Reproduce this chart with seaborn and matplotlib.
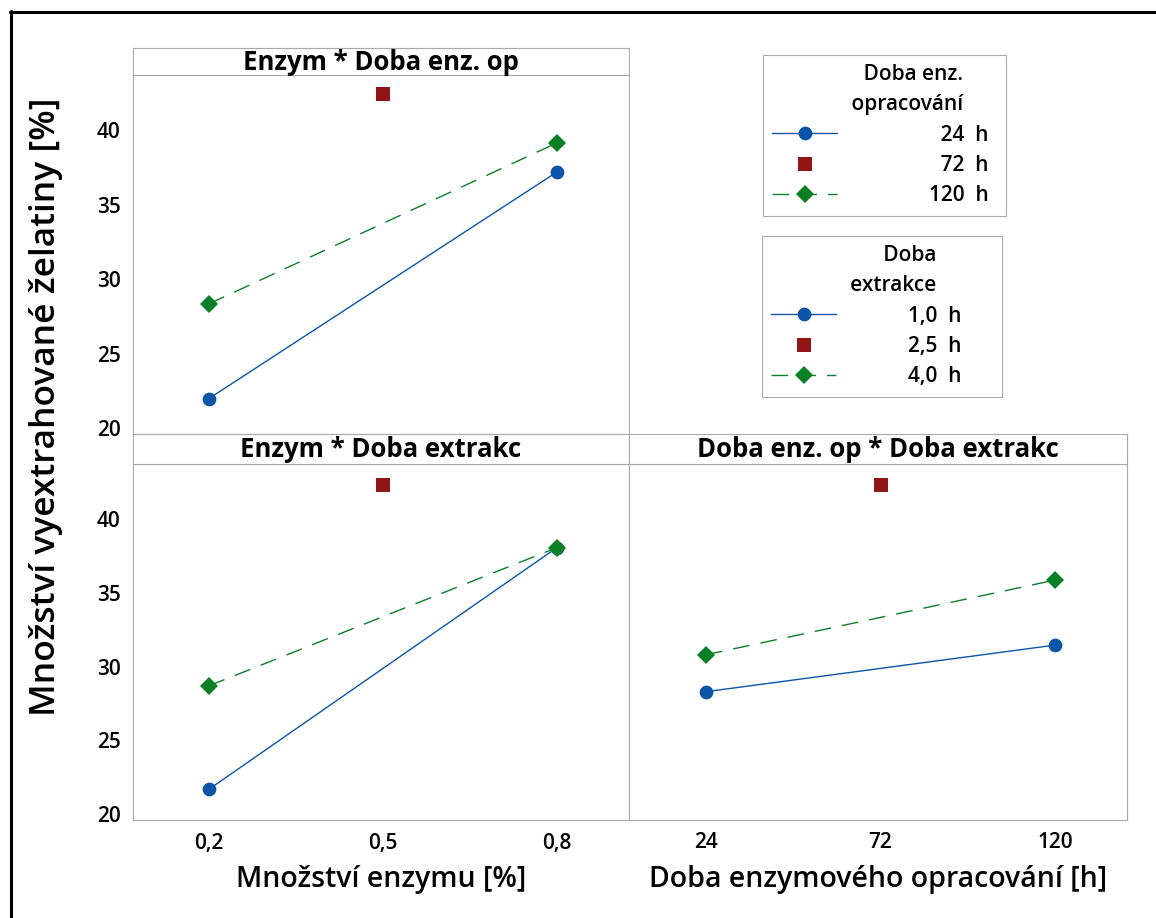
import matplotlib
matplotlib.use("Agg")
import matplotlib.pyplot as plt
from matplotlib.lines import Line2D
import pandas as pd
import seaborn as sns

# ---- factor levels and tick labels ----
enzyme_ticks = [0.2, 0.5, 0.8]
enzyme_ticklabels = ["0,2", "0,5", "0,8"]
treat_ticks = [24, 72, 120]
treat_ticklabels = ["24", "72", "120"]
y_ticks = [20, 25, 30, 35, 40]

treat_names = ["24 h", "72 h", "120 h"]
extr_names = ["1,0 h", "2,5 h", "4,0 h"]
treat_legend = ["\u200724  h", "\u200772  h", "120  h"]
extr_legend = ["1,0  h", "2,5  h", "4,0  h"]

# ---- mean gelatin yield [%] ----
# enzyme amount x enzymatic treatment time
enz_x_24h = [0.2, 0.8]
enz_y_24h = [22.0, 37.2]
enz_x_72h = [0.5]
enz_y_72h = [42.45]
enz_x_120h = [0.2, 0.8]
enz_y_120h = [28.35, 39.15]

# enzyme amount x extraction time
ex_x_1h = [0.2, 0.8]
ex_y_1h = [21.7, 38.05]
ex_x_25h = [0.5]
ex_y_25h = [42.3]
ex_x_4h = [0.2, 0.8]
ex_y_4h = [28.7, 38.05]

# treatment time x extraction time
tt_x_1h = [24, 120]
tt_y_1h = [28.3, 31.45]
tt_x_25h = [72]
tt_y_25h = [42.3]
tt_x_4h = [24, 120]
tt_y_4h = [30.8, 35.85]

# ---- styling ----
BLUE, RED, GREEN = "#0b55a8", "#921515", "#0a8026"
GRID_GREY = "#a9a9a9"
colors = [BLUE, RED, GREEN]
marker_shapes = ["o", "s", "D"]
marker_sizes = {"o": 9.9, "s": 10.0, "D": 8.7}
dash_styles = ["", "", (12, 8)]

sns.set_theme(style="white")
plt.rcParams["font.family"] = ["Open Sans", "DejaVu Sans"]
plt.rcParams["text.color"] = "black"
plt.rcParams["axes.labelcolor"] = "black"
plt.rcParams["axes.edgecolor"] = GRID_GREY
plt.rcParams["axes.linewidth"] = 0.8

W, H = 1156, 918
fig = plt.figure(figsize=(W / 100, H / 100), dpi=100)


def px_rect(left, top, right, bottom):
    return [left / W, 1 - bottom / H, (right - left) / W, (bottom - top) / H]


def long_frame(xs, ys, names):
    rows = []
    for xl, yl, name in zip(xs, ys, names):
        for x, y in zip(xl, yl):
            rows.append({"x": x, "y": y, "group": name})
    return pd.DataFrame(rows)


def draw_panel(ax, df, names):
    sns.lineplot(
        data=df, x="x", y="y", hue="group", style="group",
        hue_order=names, style_order=names,
        palette=dict(zip(names, colors)),
        markers=dict(zip(names, marker_shapes)),
        dashes=dict(zip(names, dash_styles)),
        linewidth=1.0, markeredgewidth=0, errorbar=None,
        legend=False, ax=ax,
    )
    for ln in ax.lines:
        m = ln.get_marker()
        if m in marker_sizes:
            ln.set_markersize(marker_sizes[m])
    ax.set_xlabel("")
    ax.set_ylabel("")
    ax.set_ylim(19.62, 43.7)
    for sp in ax.spines.values():
        sp.set_color(GRID_GREY)
        sp.set_linewidth(0.8)
    ax.tick_params(axis="both", length=5, width=0.8, color=GRID_GREY,
                   labelcolor="black", labelsize=15, pad=4)


def strip(rect, title):
    sax = fig.add_axes(rect)
    sax.set_xticks([])
    sax.set_yticks([])
    for sp in sax.spines.values():
        sp.set_color(GRID_GREY)
        sp.set_linewidth(0.8)
    sax.text(0.5, 0.47, title, ha="center", va="center", fontsize=18.5,
             fontweight="bold", transform=sax.transAxes)


# ---- panels ----
ax1 = fig.add_axes(px_rect(133, 75, 629, 434))
ax2 = fig.add_axes(px_rect(133, 464, 629, 820))
ax3 = fig.add_axes(px_rect(629, 464, 1127, 820))

draw_panel(ax1, long_frame([enz_x_24h, enz_x_72h, enz_x_120h],
                           [enz_y_24h, enz_y_72h, enz_y_120h], treat_names),
           treat_names)
draw_panel(ax2, long_frame([ex_x_1h, ex_x_25h, ex_x_4h],
                           [ex_y_1h, ex_y_25h, ex_y_4h], extr_names),
           extr_names)
draw_panel(ax3, long_frame([tt_x_1h, tt_x_25h, tt_x_4h],
                           [tt_y_1h, tt_y_25h, tt_y_4h], extr_names),
           extr_names)

for ax in (ax1, ax2):
    ax.set_xlim(0.069, 0.924)
    ax.set_yticks(y_ticks)
    ax.set_yticklabels([str(v) for v in y_ticks], fontweight="semibold")
ax1.set_xticks([])
ax2.set_xticks(enzyme_ticks)
ax2.set_xticklabels(enzyme_ticklabels, fontweight="semibold")

ax3.set_xlim(2.8, 139.8)
ax3.set_xticks(treat_ticks)
ax3.set_xticklabels(treat_ticklabels, fontweight="semibold")
ax3.set_yticks([])

ax2.set_xlabel("Množství enzymu [%]", fontsize=20.5, fontweight="semibold",
               labelpad=8)
ax3.set_xlabel("Doba enzymového opracování [h]", fontsize=20.5,
               fontweight="semibold", labelpad=8)
fig.text(46 / W, 1 - 407 / H, "Množství vyextrahované želatiny [%]",
         rotation=90, ha="center", va="center", fontsize=25.5,
         fontweight="semibold")

strip(px_rect(133, 48, 629, 75), "Enzym * Doba enz. op")
strip(px_rect(133, 434, 629, 464), "Enzym * Doba extrakc")
strip(px_rect(629, 434, 1127, 464), "Doba enz. op * Doba extrakc")


# ---- legends ----
def handles(labels):
    out = []
    for lab, c, m, d in zip(labels, colors, marker_shapes, dash_styles):
        ls = "None" if m == "s" else ("--" if d else "-")
        h = Line2D([], [], color=c, marker=m, markersize=marker_sizes[m],
                   markeredgewidth=0, linewidth=1.0, linestyle=ls, label=lab)
        if d:
            h.set_dashes(d)
        out.append(h)
    return out


def legend_box(labels, title, left, top, width, textpad, lead):
    # leading figure spaces push the right-aligned title block to the right
    padded = "\n".join(lead + line for line in title.split("\n"))
    leg = fig.legend(
        handles=handles(labels), title=padded, loc="upper left",
        bbox_to_anchor=(left / W, 1 - top / H, width / W, 0),
        mode="expand", borderaxespad=0, fontsize=15, title_fontsize=15,
        frameon=True, fancybox=False, framealpha=1, edgecolor=GRID_GREY,
        handlelength=3.1, handletextpad=textpad, labelspacing=0.45,
        borderpad=0.45, alignment="center",
    )
    leg.get_frame().set_linewidth(0.8)
    title_text = leg.get_title()
    title_text.set_multialignment("right")
    title_text.set_linespacing(1.55)
    title_text.set_fontweight("semibold")
    for t in leg.get_texts():
        t.set_fontweight("semibold")
    return leg


legend_box(treat_legend, "Doba enz.\nopracování", 763, 55, 243, 4.4,
           "\u2007" * 4)
legend_box(extr_legend, "Doba\nextrakce", 762, 236, 240, 3.45,
           "\u2007" * 2)

# ---- outer frame ----
fig.add_artist(Line2D([10.5 / W, 10.5 / W], [0, 1 - 11 / H], color="black",
                      linewidth=2.2, transform=fig.transFigure))
fig.add_artist(Line2D([9.5 / W, 1], [1 - 11.5 / H, 1 - 11.5 / H],
                      color="black", linewidth=2.2,
                      transform=fig.transFigure))

fig.savefig("out.png", dpi=100, facecolor="white")
